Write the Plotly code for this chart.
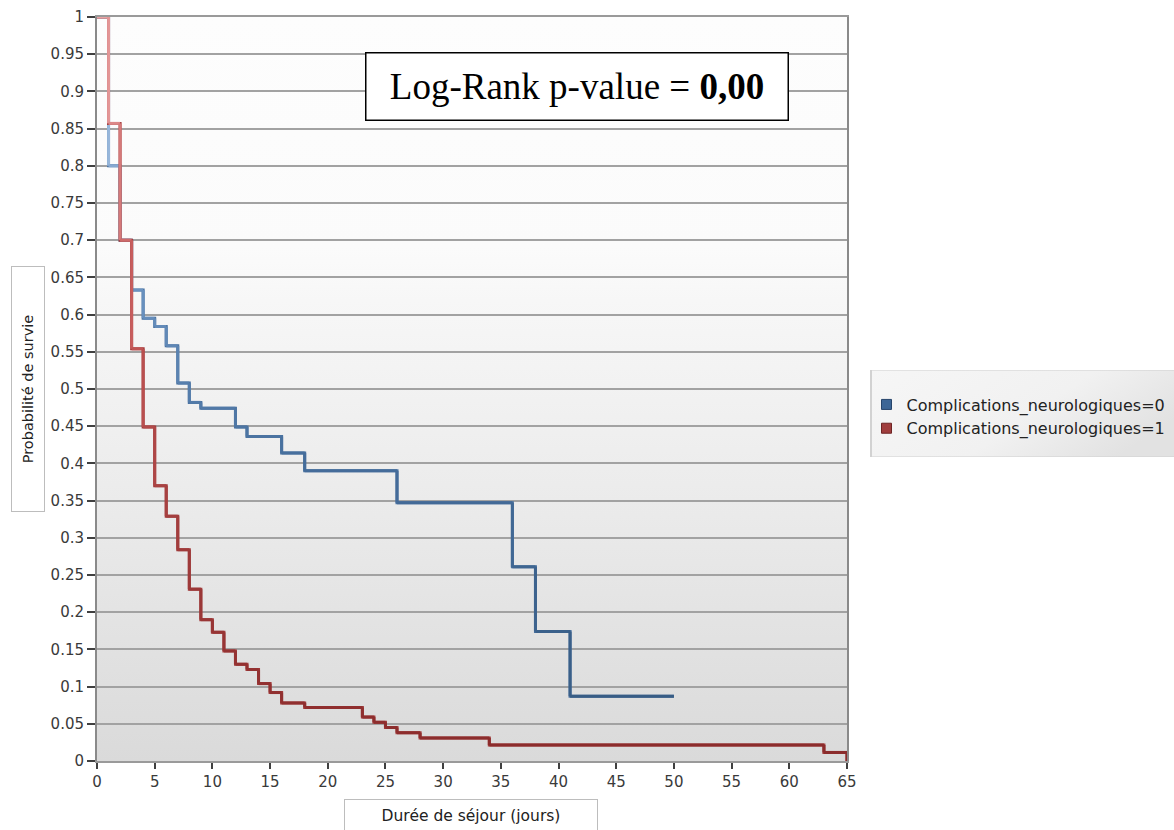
import base64
import plotly.graph_objects as go

# Kaplan-Meier survival estimates by group (length of stay in days)
days_0 = [0, 1, 2, 3, 4, 5, 6, 7, 8, 9, 12, 13, 16, 18, 26, 36, 38, 41, 50]
surv_0 = [1.0, 0.8, 0.7, 0.633, 0.595, 0.584, 0.558, 0.508, 0.482, 0.474,
          0.449, 0.436, 0.414, 0.390, 0.347, 0.261, 0.174, 0.087, 0.087]

days_1 = [0, 1, 2, 3, 4, 5, 6, 7, 8, 9, 10, 11, 12, 13, 14, 15, 16, 18,
          23, 24, 25, 26, 28, 34, 63, 65]
surv_1 = [1.0, 0.857, 0.70, 0.554, 0.449, 0.370, 0.329, 0.284, 0.231, 0.190,
          0.173, 0.148, 0.130, 0.123, 0.104, 0.092, 0.078, 0.072, 0.059,
          0.052, 0.045, 0.038, 0.031, 0.0215, 0.0115, 0.0]

group_names = ["Complications_neurologiques=0", "Complications_neurologiques=1"]

x_tick_labels = ["0", "5", "10", "15", "20", "25", "30", "35", "40", "45",
                 "50", "55", "60", "65"]
y_tick_labels = ["0", "0.05", "0.1", "0.15", "0.2", "0.25", "0.3", "0.35",
                 "0.4", "0.45", "0.5", "0.55", "0.6", "0.65", "0.7", "0.75",
                 "0.8", "0.85", "0.9", "0.95", "1"]

p_value_text = "Log-Rank p-value = <b>0,00</b>"

# Stroke colour ramps: lighter near the top of the chart, darker near the bottom
blue_ramp = [(0.0, "#34587f"), (0.4, "#456d9b"), (0.65, "#6e96c4"), (1.0, "#a8c3e3")]
red_ramp = [(0.0, "#8a2b2b"), (0.3, "#a13c3c"), (0.6, "#c45858"), (1.0, "#eaa3a3")]
legend_colors = ["#3d6696", "#a03d3d"]
legend_edges = ["#27456b", "#6e2424"]
base_colors = ["#4a72a0", "#a13c3c"]


def hex_to_rgb(h):
    h = h.lstrip("#")
    return tuple(int(h[i:i + 2], 16) for i in (0, 2, 4))


def ramp_color(ramp, v):
    for (p0, c0), (p1, c1) in zip(ramp[:-1], ramp[1:]):
        if v <= p1:
            f = 0 if p1 == p0 else (v - p0) / (p1 - p0)
            a, b = hex_to_rgb(c0), hex_to_rgb(c1)
            rgb = [round(a[k] + (b[k] - a[k]) * max(0, min(1, f))) for k in range(3)]
            return "rgb({},{},{})".format(*rgb)
    return ramp[-1][1]


def svg_uri(svg):
    return "data:image/svg+xml;base64," + base64.b64encode(svg.encode()).decode()


plot_bg_svg = (
    '<svg xmlns="http://www.w3.org/2000/svg" width="100" height="100" '
    'viewBox="0 0 100 100" preserveAspectRatio="none">'
    '<defs><linearGradient id="g" x1="0" y1="0" x2="0" y2="1">'
    '<stop offset="0" stop-color="#fdfdfd"/>'
    '<stop offset="0.31" stop-color="#fbfbfb"/>'
    '<stop offset="0.38" stop-color="#f7f7f7"/>'
    '<stop offset="0.65" stop-color="#ebebeb"/>'
    '<stop offset="1" stop-color="#dadada"/>'
    '</linearGradient></defs>'
    '<rect width="100" height="100" fill="url(#g)"/></svg>'
)

legend_bg_svg = (
    '<svg xmlns="http://www.w3.org/2000/svg" width="100" height="100" '
    'viewBox="0 0 100 100" preserveAspectRatio="none">'
    '<defs><linearGradient id="g" x1="0" y1="0" x2="1" y2="0.4">'
    '<stop offset="0" stop-color="#f6f6f6"/>'
    '<stop offset="0.6" stop-color="#f1f1f1"/>'
    '<stop offset="1" stop-color="#e2e2e2"/>'
    '</linearGradient></defs>'
    '<rect width="100" height="100" fill="url(#g)" stroke="#d2d2d2" stroke-width="1.2"/></svg>'
)

fig = go.Figure()

series = [(days_0, surv_0, blue_ramp, base_colors[0]),
          (days_1, surv_1, red_ramp, base_colors[1])]

for t, s, ramp, base in series:
    # continuous step curve underneath
    fig.add_trace(go.Scatter(
        x=t, y=s, mode="lines", line=dict(color=base, width=3, shape="hv"),
        showlegend=False, hoverinfo="skip"))
    # each step drawn with a colour depending on its height
    for i in range(len(t) - 1):
        fig.add_trace(go.Scatter(
            x=[t[i], t[i + 1]], y=[s[i], s[i]], mode="lines",
            line=dict(color=ramp_color(ramp, s[i]), width=3),
            showlegend=False, hoverinfo="skip"))
        if s[i + 1] != s[i]:
            fig.add_trace(go.Scatter(
                x=[t[i + 1], t[i + 1]], y=[s[i], s[i + 1]], mode="lines",
                line=dict(color=ramp_color(ramp, (s[i] + s[i + 1]) / 2), width=3),
                showlegend=False, hoverinfo="skip"))

for name, col, edge in zip(group_names, legend_colors, legend_edges):
    fig.add_trace(go.Scatter(
        x=[None], y=[None], mode="markers", name=name,
        marker=dict(symbol="square", size=10, color=col, line=dict(color=edge, width=1))))

tick_font = dict(family="DejaVu Sans", size=15, color="#3a3a3a")

fig.update_layout(
    width=1174, height=830,
    margin=dict(l=97, r=327, t=17, b=69, autoexpand=False),
    paper_bgcolor="white",
    plot_bgcolor="rgba(0,0,0,0)",
    showlegend=True,
    legend=dict(
        x=1.026, y=0.4630, xanchor="left", yanchor="middle",
        bgcolor="rgba(0,0,0,0)", borderwidth=0, tracegroupgap=0,
        font=dict(family="DejaVu Sans", size=16, color="#222222"),
        itemclick=False, itemdoubleclick=False),
    xaxis=dict(
        range=[0, 65], tickvals=[float(v) for v in x_tick_labels], ticktext=x_tick_labels,
        showgrid=False, zeroline=False, ticks="outside", ticklen=6, tickwidth=1.5,
        tickcolor="#404040", showline=True, linecolor="#9a9a9a", linewidth=2,
        mirror=True, tickfont=tick_font),
    yaxis=dict(
        range=[0, 1], tickvals=[float(v) for v in y_tick_labels], ticktext=y_tick_labels,
        showgrid=True, gridcolor="#a2a2a2", gridwidth=1.6, zeroline=False,
        ticks="outside", ticklen=8, tickwidth=1.5, tickcolor="#404040",
        showline=True, linecolor="#8a8a8a", linewidth=2, mirror=True,
        tickfont=tick_font),
    images=[
        dict(source=svg_uri(plot_bg_svg), xref="paper", yref="paper",
             x=0, y=1, sizex=1, sizey=1, sizing="stretch", layer="below",
             xanchor="left", yanchor="top"),
        dict(source=svg_uri(legend_bg_svg), xref="paper", yref="paper",
             x=1.0307, y=0.5255, sizex=0.4347, sizey=0.1169, sizing="stretch",
             layer="below", xanchor="left", yanchor="top"),
    ],
    annotations=[
        dict(text=p_value_text, xref="paper", yref="paper", x=0.6406, y=0.907,
             xanchor="center", yanchor="middle", showarrow=False,
             font=dict(family="Liberation Serif", size=37, color="black"),
             bgcolor="white", bordercolor="black", borderwidth=1.5, borderpad=1,
             width=419, height=64),
        dict(text="Probabilité de survie", xref="paper", yref="paper",
             x=-0.092, y=0.5, xanchor="center", yanchor="middle", showarrow=False,
             textangle=-90, font=dict(family="DejaVu Sans", size=14.5, color="#222222"),
             bgcolor="white", bordercolor="#bdbdbd", borderwidth=1, borderpad=0,
             width=244, height=32),
        dict(text="Durée de séjour (jours)", xref="paper", yref="paper",
             x=0.4987, y=-0.0733, xanchor="center", yanchor="middle", showarrow=False,
             font=dict(family="DejaVu Sans", size=15.5, color="#222222"),
             bgcolor="white", bordercolor="#bdbdbd", borderwidth=1, borderpad=0,
             width=252, height=32),
    ],
)

fig.write_html("out.html")
